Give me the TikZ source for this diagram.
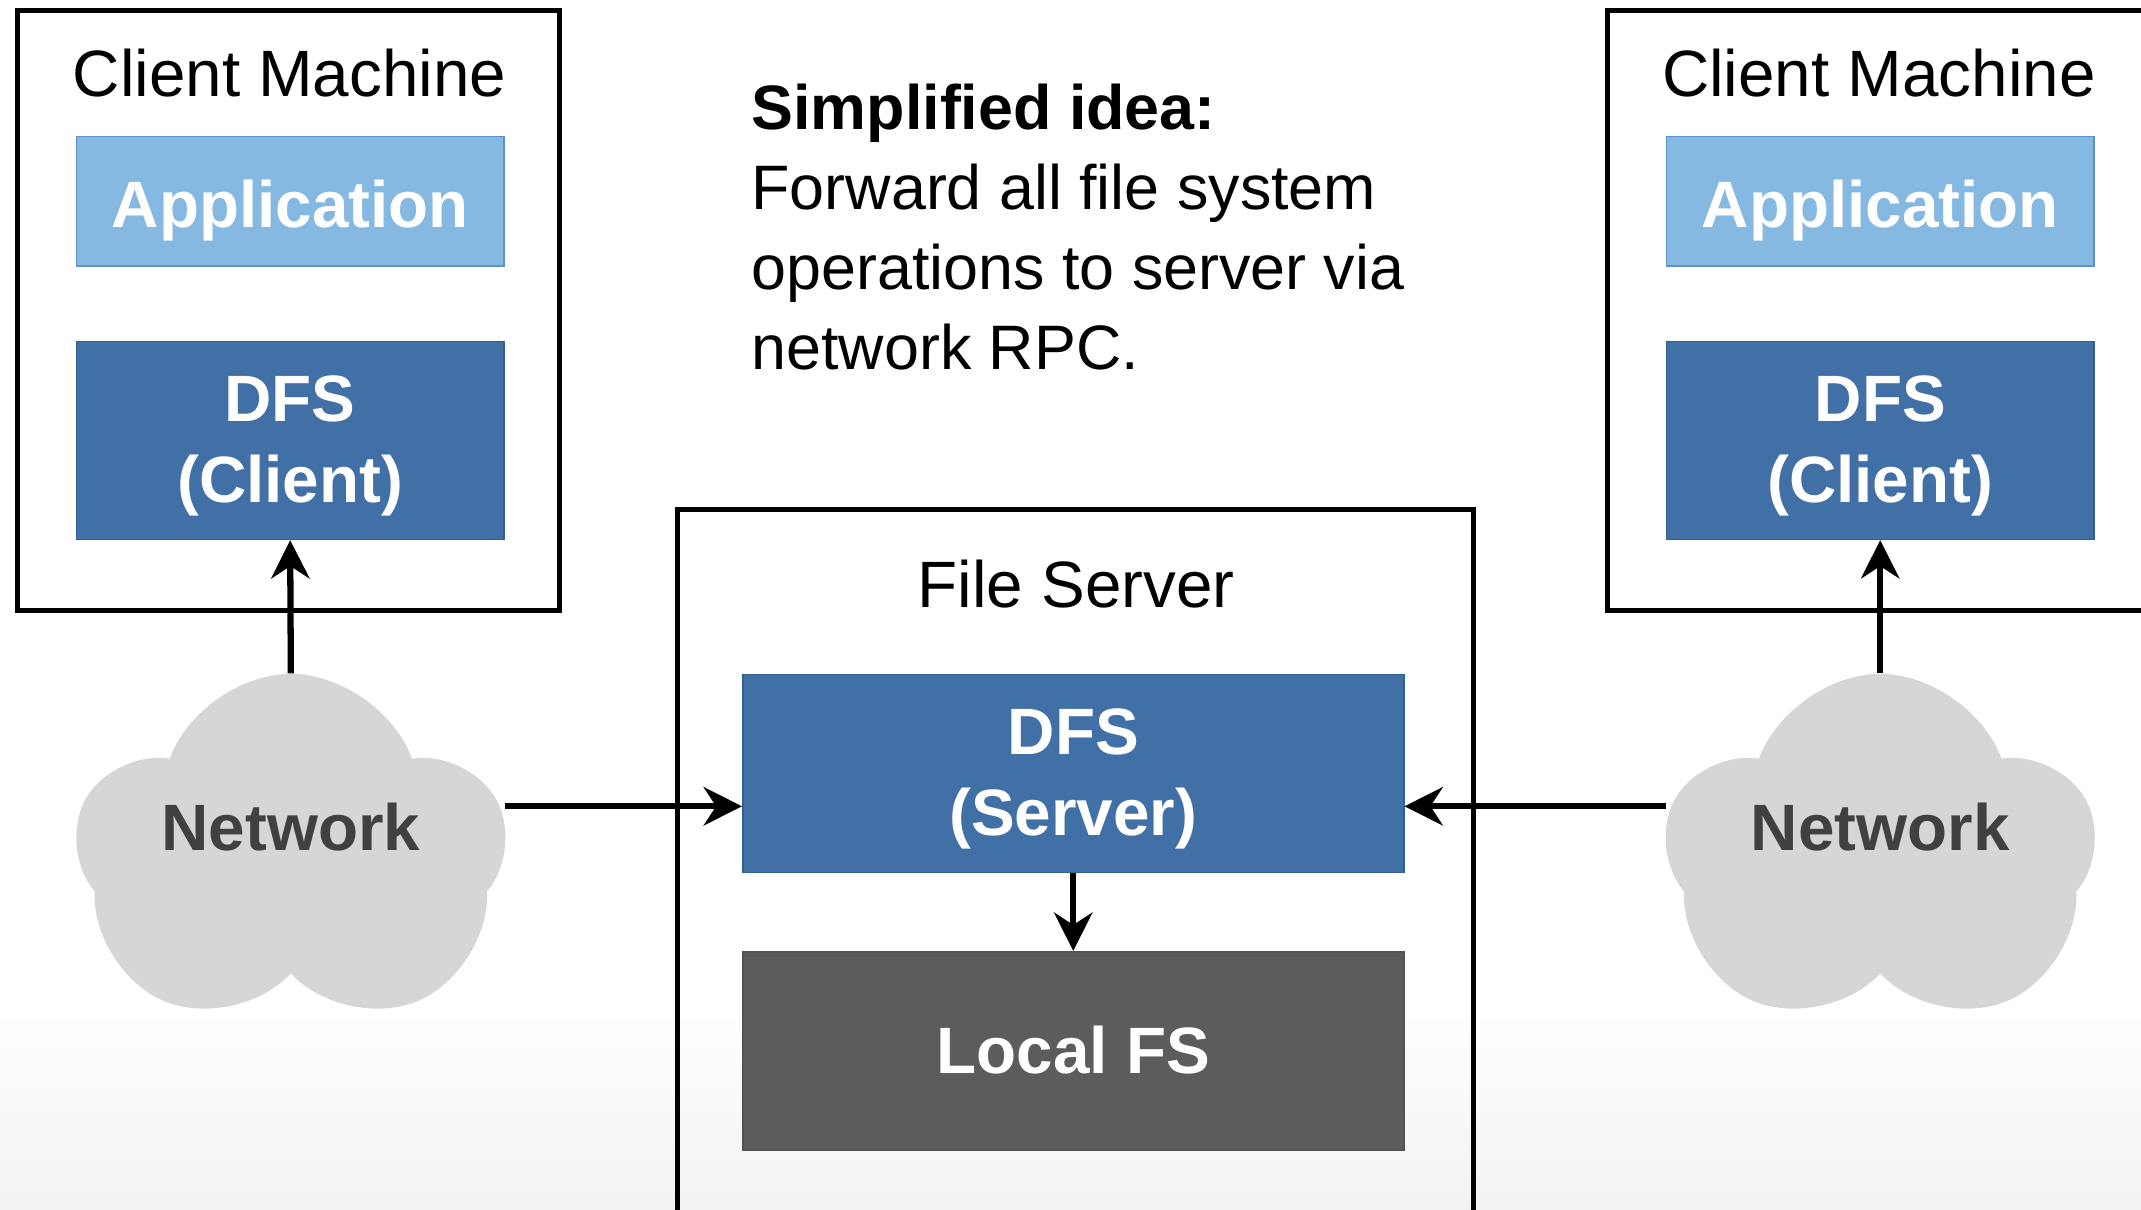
\documentclass[tikz,border=0pt]{standalone}
\usepackage{fontspec}
\setmainfont{Liberation Sans}
\usepackage{tikz}
\usetikzlibrary{shapes.symbols}
\usetikzlibrary{arrows.meta}

\definecolor{appblue}{RGB}{133,185,226}
\definecolor{appedge}{RGB}{90,145,200}
\definecolor{dfsblue}{RGB}{65,112,167}
\definecolor{dfsedge}{RGB}{50,95,150}
\definecolor{fsgray}{RGB}{92,92,92}
\definecolor{cloudgray}{RGB}{214,214,214}
\definecolor{nettext}{RGB}{64,64,64}

\begin{document}
\begin{tikzpicture}[x=0.5pt,y=-0.5pt,
    machine/.style={draw,line width=1.8pt,rectangle,inner sep=0},
    label/.style={font=\fontsize{24}{29}\selectfont,anchor=base},
    appbox/.style={rectangle,fill=appblue,draw=appedge,line width=0.6pt,minimum width=156.5pt,minimum height=47.5pt,
                   text height=19pt,text depth=0pt,
                   text=white,font=\fontsize{24}{29}\selectfont\bfseries},
    dfsbox/.style={rectangle,fill=dfsblue,draw=dfsedge,line width=0.6pt,minimum height=72.5pt,align=center,
                   text depth=1pt,
                   text=white,font=\fontsize{24}{29.5}\selectfont\bfseries},
    net/.style={cloud,cloud puffs=5,cloud puff arc=140,shape border rotate=24,aspect=1.4,fill=cloudgray,draw=none,
                minimum width=158pt,minimum height=100pt,inner sep=0,text depth=20.5pt,
                text=nettext,font=\fontsize{24}{29}\selectfont\bfseries},
    arr/.style={line width=2.3pt,arrows = -{Stealth[length=14pt,width=14pt,inset=4.5pt]}}]

            \useasboundingbox (0,0) rectangle (1568,886);
            \shade[top color=white,bottom color=black!5] (0,740) rectangle (1568,886);

            % left client
            \path   (211.5,227.5) node (cmL) [machine,minimum width=198.5pt,minimum height=219.5pt] {}
                    (212,71) node (tL) [label] {Client Machine}
                    (212.5,147.5) node (appL) [appbox] {Application}
                    (212.5,322.5) node (dfsL) [dfsbox,minimum width=156.5pt] {DFS\\(Client)}
                    (213,626) node (cloudL) [net] {Network};

            % right client
            \path   (1398.5,227.5) node (cmR) [machine,minimum width=221.5pt,minimum height=219.5pt] {}
                    (1376,71) node (tR) [label] {Client Machine}
                    (1377,147.5) node (appR) [appbox] {Application}
                    (1377,322.5) node (dfsR) [dfsbox,minimum width=156.5pt] {DFS\\(Client)}
                    (1377,626) node (cloudR) [net] {Network};

            % file server
            \path   (787.5,666.5) node (fs) [machine,minimum width=291.5pt,minimum height=293.5pt] {}
                    (788,445) node (tS) [label] {File Server}
                    (786,566.5) node (srv) [dfsbox,minimum width=242pt] {DFS\\(Server)}
                    (786,769.5) node (lfs) [dfsbox,fill=fsgray,draw=fsgray!90!black,minimum width=242pt] {Local FS};

            \path   (550,61) node (idea) [anchor=north west,inner sep=0,align=left,font=\fontsize{23}{29.3}\selectfont]
                    {\textbf{Simplified idea:}\\Forward all file system\\operations to server via\\network RPC.};

            \coordinate (inL) at ([yshift=-12pt]srv.west);
            \coordinate (inR) at ([yshift=-12pt]srv.east);

            \draw[arr] (cloudL.north) -- (dfsL.south);
            \draw[arr] (cloudR.north) -- (dfsR.south);
            \draw[arr] (cloudL.east |- inL) -- (inL);
            \draw[arr] (cloudR.west |- inR) -- (inR);
            \draw[arr] (srv.south) -- (lfs.north);

        \end{tikzpicture}
\end{document}
